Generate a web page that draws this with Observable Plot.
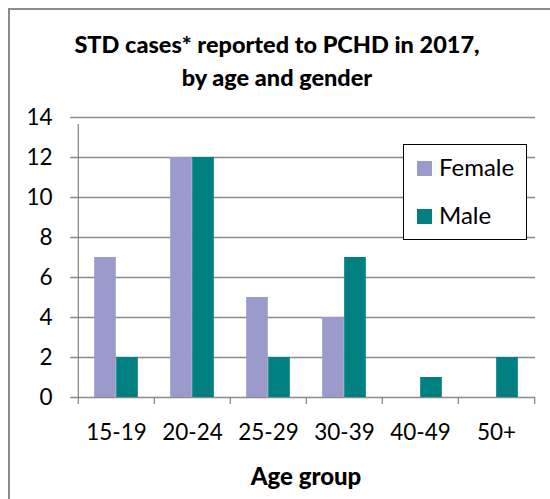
<!DOCTYPE html>
<html>
<head>
<meta charset="utf-8">
<script src="https://cdn.jsdelivr.net/npm/d3@7"></script>
<script src="https://cdn.jsdelivr.net/npm/@observablehq/plot@0.6"></script>
<style>
  html, body { margin: 0; padding: 0; background: #fff; }
  body { width: 550px; height: 499px; overflow: hidden; position: relative; font-family: Lato, "Open Sans", sans-serif; }
  #border { position: absolute; left: 8px; top: 8px; width: 580px; height: 540px; border: 2px solid #8c8c8c; box-sizing: border-box; }
  #title { position: absolute; left: 8px; width: 538px; top: 28px; text-align: center; font-weight: 900; font-size: 23.5px; line-height: 33px; color: #000; }
  #chart { position: absolute; left: 0; top: 0; }
  #xtitle { position: absolute; left: 77px; width: 458px; top: 461px; text-align: center; font-weight: 900; font-size: 24px; }
  #legend { position: absolute; left: 403px; top: 144px; width: 124px; height: 96px; border: 1.5px solid #000; box-sizing: border-box; background: #fff; }
  .li { position: absolute; left: 13px; font-size: 24px; line-height: 28px; white-space: nowrap; }
  .sw { display: inline-block; width: 15px; height: 15px; margin-right: 7px; vertical-align: 0px; }
</style>
</head>
<body>
<div id="chart"></div>
<div id="border"></div>
<div id="title">STD cases* reported to PCHD in 2017,<br>by age and gender</div>
<div id="xtitle">Age group</div>
<div id="legend"></div>
<script>
const ageGroups = ["15-19", "20-24", "25-29", "30-39", "40-49", "50+"];
const female = [7, 12, 5, 4, 0, 0];
const male = [2, 12, 2, 7, 1, 2];
const yTicks = [0, 2, 4, 6, 8, 10, 12, 14];
const seriesNames = ["Female", "Male"];
const seriesColors = ["#9b9bcb", "#008080"];

const W = 550, H = 499;
const mL = 77, mR = 15, mT = 117, mB = 102;
const bw = (W - mL - mR) / ageGroups.length;
const barW = 22;
const inset = (bw - barW) / 2;

const fData = ageGroups.map((a, i) => ({age: a, value: female[i]}));
const mData = ageGroups.map((a, i) => ({age: a, value: male[i]}));
const gridColor = "#8a8a8a";

const chart = Plot.plot({
  width: W, height: H,
  marginLeft: mL, marginRight: mR, marginTop: mT, marginBottom: mB,
  style: {fontFamily: "Lato, 'Open Sans', sans-serif", fontSize: "22.5px", color: "#000", background: "transparent"},
  x: {domain: ageGroups, padding: 0, label: null},
  y: {domain: [0, 14], label: null},
  marks: [
    Plot.ruleY(yTicks, {y: d => d, stroke: gridColor, strokeWidth: 1.3, insetLeft: -7}),
    Plot.barY(fData, {x: "age", y: "value", fill: seriesColors[0], insetLeft: inset, insetRight: inset, dx: -barW / 2}),
    Plot.barY(mData, {x: "age", y: "value", fill: seriesColors[1], insetLeft: inset, insetRight: inset, dx: barW / 2}),
    Plot.axisY({ticks: yTicks, tickSize: 0, tickPadding: 25, tickFormat: d => d, fontSize: 22.5}),
    Plot.axisX({tickSize: 0, tickPadding: 27, fontSize: 22.5, label: null}),
    Plot.ruleX(ageGroups, {x: d => d, y1: 0, y2: 0, dx: -bw / 2, insetBottom: -7, stroke: gridColor, strokeWidth: 1.3}),
    Plot.ruleX([ageGroups[ageGroups.length - 1]], {x: d => d, y1: 0, y2: 0, dx: bw / 2, insetBottom: -7, stroke: gridColor, strokeWidth: 1.3}),
    Plot.ruleX([ageGroups[0]], {x: d => d, y1: 0, y2: 14, dx: -bw / 2, insetBottom: -7, stroke: gridColor, strokeWidth: 1.3})
  ]
});
document.getElementById("chart").appendChild(chart);

const legend = document.getElementById("legend");
seriesNames.forEach((n, i) => {
  const d = document.createElement("div");
  d.className = "li";
  d.style.top = (8 + i * 48) + "px";
  d.innerHTML = `<span class="sw" style="background:${seriesColors[i]}"></span>${n}`;
  legend.appendChild(d);
});
</script>
</body>
</html>
